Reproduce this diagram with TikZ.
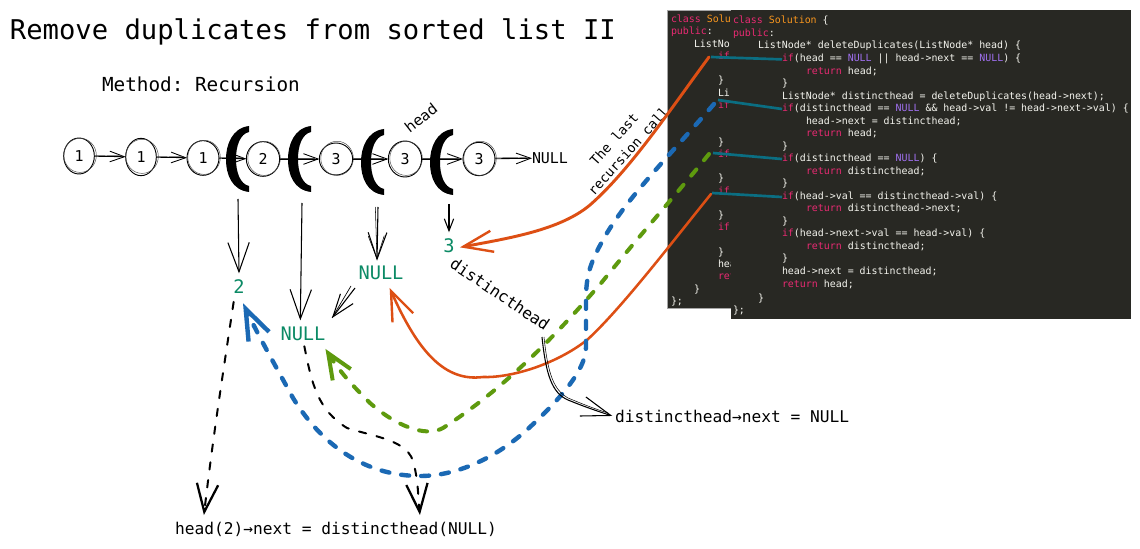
\documentclass[tikz,border=0pt]{standalone}
\usepackage{fontspec}
\setmainfont{DejaVu Sans}
\setmonofont{DejaVu Sans Mono}
\usetikzlibrary{arrows.meta,shapes.geometric}
\definecolor{panel}{HTML}{282823}
\definecolor{kwcol}{HTML}{E82A72}
\definecolor{clscol}{HTML}{F8961E}
\definecolor{nullcol}{HTML}{A070F0}
\definecolor{codetxt}{HTML}{F4F4EE}
\definecolor{labgreen}{HTML}{0B8A65}
\definecolor{rust}{HTML}{DD4F14}
\definecolor{bluec}{HTML}{1B69B4}
\definecolor{greenc}{HTML}{5E9A0E}
\definecolor{tealc}{HTML}{0B6E82}
\newcommand{\kwd}[1]{\textcolor{kwcol}{#1}}
\newcommand{\cls}[1]{\textcolor{clscol}{#1}}
\newcommand{\nll}[1]{\textcolor{nullcol}{#1}}
\tikzset{
  x=0.75pt,y=-0.75pt,
  every node/.style={inner sep=0pt,outer sep=0pt},
  code/.style={anchor=base west,text=codetxt,font=\fontsize{7.45}{9}\selectfont\ttfamily},
  listnode/.style={ellipse,draw=black,line width=0.7pt,fill=white,minimum width=#1},
  digit/.style={font=\fontsize{11.2}{13}\selectfont\ttfamily},
  lab/.style={font=\fontsize{12.15}{14}\selectfont\ttfamily,anchor=base west},
  small rot/.style={font=\fontsize{10}{12}\selectfont\ttfamily},
  retval/.style={text=labgreen,font=\fontsize{14}{16}\selectfont\ttfamily},
  linkarrow/.style={draw=black,line width=0.65pt,-{Straight Barb[length=11pt,width=8pt]}},
  downarrow/.style={draw=black,line width=0.8pt,-{Straight Barb[length=#1]}},
  dashblack/.style={draw=black,line width=1.5pt,line cap=round,dash pattern=on 5.5pt off 8pt,
     -{Straight Barb[length=21pt,width=16pt,line width=1.7pt]}},
  rustline/.style={draw=rust,line width=2.2pt,line cap=round},
  bluedash/.style={draw=bluec,line width=3.3pt,line cap=round,dash pattern=on 6pt off 9pt,
     -{Straight Barb[length=23pt,width=17pt]}},
  greendash/.style={draw=greenc,line width=3pt,line cap=round,dash pattern=on 6pt off 9pt,
     -{Straight Barb[length=19pt,width=16pt]}},
  tealline/.style={draw=tealc,line width=2pt},
  bracket/.pic={\fill[black] (23,-33) .. controls (6,-31) and (0,-14) .. (0,0)
      .. controls (0,16) and (6,31) .. (23,33) -- (23,27)
      .. controls (14,25) and (10,13) .. (10,0)
      .. controls (10,-13) and (14,-25) .. (23,-27) -- cycle;},
}
\begin{document}
\begin{tikzpicture}
\useasboundingbox (0,0) rectangle (1140,549);
\fill[white] (0,0) rectangle (1140,549);
% code panels
\fill[panel,draw=gray!70,line width=0.6pt] (667,10) rectangle (735,308);
\node[code] (b1) at (671,23) {\kwd{class} \cls{Solu}};
\node[code] (b2) at (671,35) {\kwd{public}:};
\node[code] (b3) at (694,48) {ListNo};
\node[code] (b4) at (718,60) {\kwd{if(}};
\node[code] (b6) at (718,84) {\}};
\node[code] (b7) at (718,97) {Li};
\node[code] (b8) at (718,109) {\kwd{if(}};
\node[code] (b9) at (718,146) {\}};
\node[code] (b10) at (718,158) {\kwd{if(}};
\node[code] (b11) at (718,182) {\}};
\node[code] (b12) at (718,195) {\kwd{if(}};
\node[code] (b13) at (718,219) {\}};
\node[code] (b14) at (718,231) {\kwd{if(}};
\node[code] (b15) at (718,256) {\}};
\node[code] (b16) at (718,268) {hea};
\node[code] (b17) at (718,280) {\kwd{ret}};
\node[code] (b18) at (694,293) {\}};
\node[code] (b19) at (671,305) {\};};
\fill[panel] (731,10) rectangle (1131,319);
\node[code] (c1) at (733,24) {\kwd{class} \cls{Solution} \{};
\node[code] (c2) at (733,37) {\kwd{public}:};
\node[code] (c3) at (758,49) {ListNode* deleteDuplicates(ListNode* head) \{};
\node[code] (c4) at (782,62) {\kwd{if}(head == \nll{NULL} || head->next == \nll{NULL}) \{};
\node[code] (c5) at (806,75) {\kwd{return} head;};
\node[code] (c6) at (782,87) {\}};
\node[code] (c7) at (782,100) {ListNode* distincthead = deleteDuplicates(head->next);};
\node[code] (c8) at (782,112) {\kwd{if}(distincthead == \nll{NULL} \&\& head->val != head->next->val) \{};
\node[code] (c9) at (806,125) {head->next = distincthead;};
\node[code] (c10) at (806,137) {\kwd{return} head;};
\node[code] (c11) at (782,150) {\}};
\node[code] (c12) at (782,162) {\kwd{if}(distincthead == \nll{NULL}) \{};
\node[code] (c13) at (806,175) {\kwd{return} distincthead;};
\node[code] (c14) at (782,187) {\}};
\node[code] (c15) at (782,200) {\kwd{if}(head->val == distincthead->val) \{};
\node[code] (c16) at (806,212) {\kwd{return} distincthead->next;};
\node[code] (c17) at (782,225) {\}};
\node[code] (c18) at (782,237) {\kwd{if}(head->next->val == head->val) \{};
\node[code] (c19) at (806,250) {\kwd{return} distincthead;};
\node[code] (c20) at (782,262) {\}};
\node[code] (c21) at (782,275) {head->next = distincthead;};
\node[code] (c22) at (782,288) {\kwd{return} head;};
\node[code] (c23) at (758,301) {\}};
\node[code] (c24) at (733,314) {\};};
% titles
\node[anchor=base west,font=\fontsize{20.4}{24}\selectfont\ttfamily] (title) at (10,40) {Remove duplicates from sorted list II};
\node[anchor=base west,font=\fontsize{14.5}{17}\selectfont\ttfamily] (method) at (102,92) {Method: Recursion};
% list nodes
\node[listnode=23pt,minimum height=27pt] (n1) at (79,156) {};
\node[listnode=23pt,minimum height=28pt] (n2) at (141,157) {};
\node[listnode=24pt,minimum height=26pt] (n3) at (203,158) {};
\node[listnode=25pt,minimum height=26pt] (n4) at (263,159) {};
\node[listnode=25pt,minimum height=24pt] (n5) at (336,159) {};
\node[listnode=25pt,minimum height=27pt] (n6) at (405,159) {};
\node[listnode=24pt,minimum height=25pt] (n7) at (479,159) {};
\foreach \nm/\dg in {n1/1,n2/1,n3/1,n4/2,n5/3,n6/3,n7/3}{
  \node[digit] at (\nm) {\dg};
  \draw[line width=0.35pt,draw=black!70] ([xshift=0.8pt,yshift=0.5pt]\nm.center) ellipse (12.2pt and 12.8pt);
}
\node[anchor=west,font=\fontsize{11.2}{13}\selectfont\ttfamily] (nulltop) at (532,158) {NULL};
\foreach \a/\b in {n1/n2,n2/n3,n3/n4,n4/n5,n5/n6,n6/n7,n7/nulltop}{
  \draw[linkarrow] (\a) -- (\b);
  \draw[line width=0.35pt,draw=black!70,transform canvas={yshift=0.7pt},shorten >=3pt] (\a) -- (\b);
}
% brackets
\pic at (226,159) {bracket};
\pic at (288,159) {bracket};
\pic at (361,162) {bracket};
\pic at (430,162) {bracket};
% labels
\node[rotate=38,font=\fontsize{11}{13}\selectfont] (headlab) at (421,118) {head};
\node[rotate=48,small rot] (lastlab) at (614,139) {The last};
\node[rotate=48,small rot] (reclab) at (628,151) {recursion call};
\node[rotate=-34,font=\fontsize{12}{14}\selectfont\ttfamily] (dhlab) at (500,294) {distincthead};
\node[retval] (ret2) at (239,287) {2};
\node[retval] (ret3) at (449,246) {3};
\node[retval] (null1) at (381,273) {NULL};
\node[retval] (null2) at (303,334) {NULL};
\node[lab] (dhnext) at (615,422) {distincthead→next = NULL};
\node[lab] (headnext) at (175,534) {head(2)→next = distincthead(NULL)};
% thin arrows down
\coordinate (s1) at (238,199);
\coordinate (s2) at (302,203);
\coordinate (s3) at (378,207);
\coordinate (s4) at (449,204);
\draw[downarrow={22pt,width=16pt}] (s1) -- ([yshift=5pt]ret2.north);
\draw[downarrow={22pt,width=16pt}] (s2) -- ([yshift=5pt,xshift=-2pt]null2.north);
\draw[downarrow={20pt,width=14pt}] (s3) -- ([yshift=4pt,xshift=-3pt]null1.north);
\draw[downarrow={17pt,width=12pt},line width=0.4pt] ([xshift=-2pt]s3) -- ([yshift=5pt,xshift=-3pt]null1.north);
\draw[downarrow={9pt,width=7pt}] (s4) -- ([yshift=5pt]ret3.north);
% null to null
\coordinate (nn) at (355,288);
\coordinate (nnb) at (351,286);
\coordinate (nnt) at (332,318);
\draw[downarrow={17pt,width=12pt}] (nn) -- (nnt);
\draw[line width=0.5pt] (nnb) -- (nnt);
% green
\coordinate (gs) at (709,154);
\draw[greendash] (gs) .. controls (680,190) and (640,235) .. (602,282)
   .. controls (565,325) and (510,385) .. (443,428)
   .. controls (425,438) and (395,425) .. (370,403)
   .. controls (352,385) and (340,372) .. ([yshift=-6pt]null2.south east);
% orange
\coordinate (os1) at (709,57);
\coordinate (os2) at (711,194);
\draw[rustline,-{Straight Barb[length=22pt,width=16pt,line width=1.8pt]}] (os1)
   .. controls (670,110) and (630,170) .. (590,205)
   .. controls (560,230) and (510,238) .. ([xshift=4pt,yshift=-1pt]ret3.east);
\draw[rustline,line width=1.9pt,-{Straight Barb[length=22pt,width=17pt,line width=1.8pt]}] (os2)
   .. controls (670,245) and (620,310) .. (587,340)
   .. controls (555,365) and (510,378) .. (483,377)
   .. controls (445,382) and (418,352) .. ([xshift=6.5pt,yshift=-6pt]null1.south);
% blue
\coordinate (bs) at (714,104);
\draw[bluedash] (bs) .. controls (670,155) and (630,195) .. (607,233)
   .. controls (590,262) and (586,275) .. (586,300) -- (586,347)
   .. controls (586,365) and (570,390) .. (530,427)
   .. controls (500,455) and (460,476) .. (420,476)
   .. controls (370,476) and (325,450) .. (293,398)
   .. controls (275,365) and (258,335) .. ([xshift=3pt,yshift=-7pt]ret2.south);
% black dashed
\draw[dashblack] ([xshift=-4pt,yshift=-6pt]ret2.south) .. controls (223,373) and (213,437) .. ([xshift=-99pt,yshift=5pt]headnext.north);
\draw[dashblack] ([yshift=-4pt,xshift=1pt]null2.south) .. controls (312,385) and (318,410) .. (347,428) .. controls (375,437) and (410,440) .. (414,465) .. controls (418,480) and (418,495) .. ([xshift=63pt,yshift=5pt]headnext.north);
% distincthead connector
\coordinate (dhs) at (542,337);
\draw[line width=0.8pt,-{Straight Barb[length=22pt,width=15pt]}] (dhs) .. controls (546,375) and (552,393) .. (568,400) .. controls (585,407) and (600,412) .. ([xshift=-2pt]dhnext.west);
\draw[line width=0.4pt] (544,337) .. controls (548,375) and (554,390) .. (568,398) .. controls (585,405) and (595,409) .. (608,413);
% teal lines
\coordinate (t1a) at (711,57); \coordinate (t2a) at (718,100);
\coordinate (t3a) at (713,153); \coordinate (t4a) at (712,193);
\draw[tealline] (t1a) -- (c4.west);
\draw[tealline] (t2a) -- (c8.west);
\draw[tealline] (t3a) -- (c12.west);
\draw[tealline] (t4a) -- (c15.west);
\end{tikzpicture}
\end{document}
